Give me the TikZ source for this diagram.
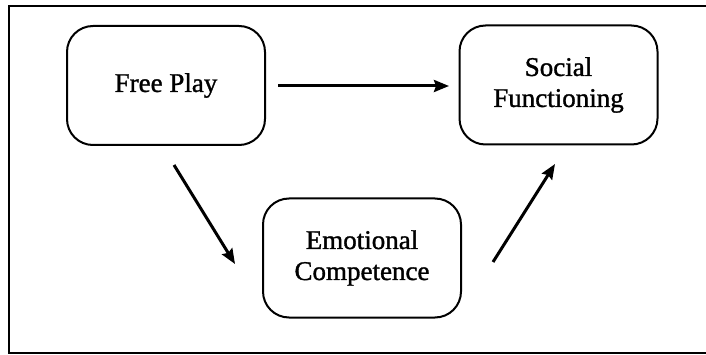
\documentclass[tikz,border=0pt]{standalone}
\usepackage{fontspec}
\setmainfont[FakeBold=1.2]{Liberation Serif}
\usetikzlibrary{arrows.meta}
\begin{document}
\begin{tikzpicture}[x=1pt,y=-1pt,
  box/.style={draw=black,line width=2pt,rounded corners=26pt,
    minimum width=198pt,minimum height=119pt,inner sep=0pt,align=center,
    font=\fontsize{27}{31}\selectfont},
  conn/.style={line width=3pt,-{Stealth[length=15pt,width=12pt,inset=2pt]}}]
\useasboundingbox (0,0) rectangle (706,355);
\draw[line width=2pt] (706,6.5) -- (9,6.5) -- (9,352.5) -- (706,352.5);
\node[box] (fp) at (166,85.5) {Free Play};
\node[box] (sf) at (558.5,85) {Social\\Functioning};
\node[box] (ec) at (362,258) {Emotional\\Competence};
\coordinate (a1s) at (174,165);
\coordinate (a1e) at (235,264);
\coordinate (a2s) at (278,86);
\coordinate (a2e) at (449,86);
\coordinate (a3s) at (493,262);
\coordinate (a3e) at (555,164);
\draw[conn] (a1s) -- (a1e);
\draw[conn] (a2s) -- (a2e);
\draw[conn] (a3s) -- (a3e);
\end{tikzpicture}
\end{document}
